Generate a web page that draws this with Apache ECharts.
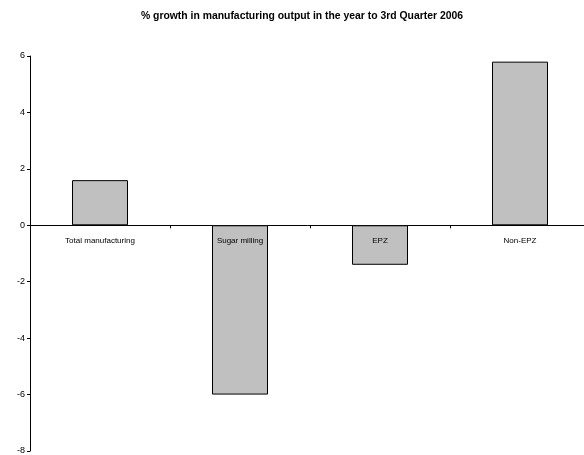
<!DOCTYPE html>
<html>
<head>
<meta charset="utf-8">
<script src="https://cdn.jsdelivr.net/npm/echarts@6/dist/echarts.min.js"></script>
<style>
  html, body { margin: 0; padding: 0; background: #fff; }
  #chart { width: 584px; height: 455px; }
</style>
</head>
<body>
<div id="chart"></div>
<script>
// Sectors and their year-on-year growth (%)
const categories = ['Total manufacturing', 'Sugar milling', 'EPZ', 'Non-EPZ'];
const growth = [1.6, -6.0, -1.4, 5.8];
const yTicks = { min: -8, max: 6, step: 2 };
const titleText = '% growth in manufacturing output in the year to 3rd Quarter 2006';

const font = '"Liberation Sans", Arial, sans-serif';

const chart = echarts.init(document.getElementById('chart'), null, { renderer: 'canvas' });
chart.setOption({
  animation: false,
  backgroundColor: '#ffffff',
  title: {
    text: titleText,
    left: 297,
    textAlign: 'center',
    top: 6,
    textStyle: { fontFamily: font, fontSize: 10.4, fontWeight: 'bold', color: '#000' }
  },
  grid: { left: 30, top: 56, width: 560, bottom: 4, containLabel: false, outerBoundsMode: 'none' },
  xAxis: [{
    // category axis line and boundary ticks, sitting on the zero line
    type: 'category',
    data: categories,
    axisLine: { onZero: true, lineStyle: { color: '#000', width: 1 } },
    axisTick: { show: true, inside: false, length: 3, lineStyle: { color: '#000' } },
    axisLabel: { show: false },
    splitLine: { show: false }
  }, {
    // category names just under the zero line, drawn above the bars
    type: 'category',
    data: categories,
    position: 'bottom',
    offset: -226,
    z: 10,
    axisLine: { show: false, onZero: false },
    axisTick: { show: false },
    axisLabel: { color: '#000', fontSize: 8, fontFamily: font, margin: 12 },
    splitLine: { show: false }
  }],
  yAxis: {
    type: 'value',
    min: yTicks.min,
    max: yTicks.max,
    interval: yTicks.step,
    axisLine: { show: true, lineStyle: { color: '#000', width: 1 } },
    axisTick: { show: true, length: 3, lineStyle: { color: '#000' } },
    axisLabel: { color: '#000', fontSize: 9, fontFamily: font, margin: 5 },
    splitLine: { show: false }
  },
  series: [{
    type: 'bar',
    data: growth,
    barWidth: '40%',
    itemStyle: { color: '#c0c0c0', borderColor: '#000', borderWidth: 1 }
  }]
});
</script>
</body>
</html>
